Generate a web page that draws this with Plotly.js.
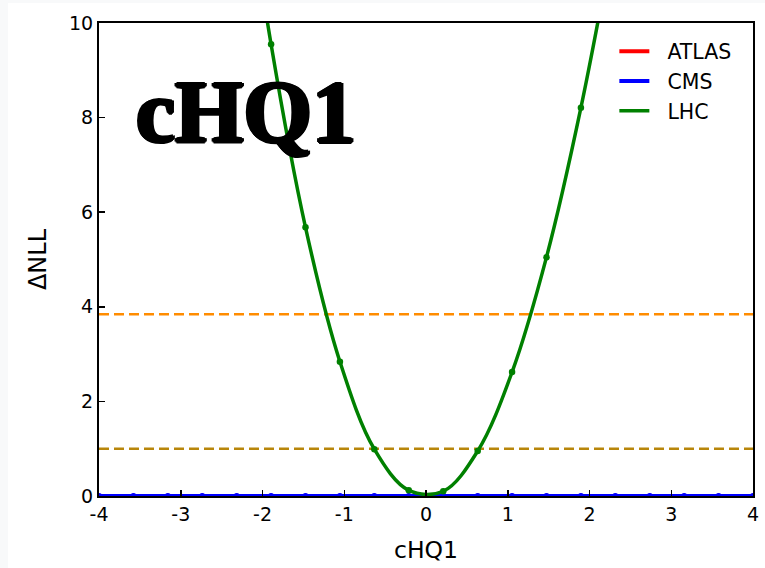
<!DOCTYPE html>
<html>
<head>
<meta charset="utf-8">
<script src="https://cdn.plot.ly/plotly-3.0.1.min.js"></script>
<style>
  html, body { margin: 0; padding: 0; background: #f8f9fa; }
  #frame { position: absolute; left: 8px; top: 3px; width: 757px; height: 565px; background: #ffffff; }
  #chart { width: 757px; height: 565px; }
</style>
</head>
<body>
<div id="frame"><div id="chart"></div></div>
<script>
// Scan points of the Wilson coefficient cHQ1
const scanX = [-4, -3.579, -3.158, -2.737, -2.316, -1.895, -1.474, -1.053, -0.632, -0.211,
               0.211, 0.632, 1.053, 1.474, 1.895, 2.316, 2.737, 3.158, 3.579, 4];
// ATLAS and CMS scans are flat at zero
const atlasNLL = [0, 0, 0, 0, 0, 0, 0, 0, 0, 0, 0, 0, 0, 0, 0, 0, 0, 0, 0, 0];
const cmsNLL   = [0, 0, 0, 0, 0, 0, 0, 0, 0, 0, 0, 0, 0, 0, 0, 0, 0, 0, 0, 0];
// Combined LHC scan (points near the plotted window)
const lhcX   = [-2.316, -1.895, -1.474, -1.053, -0.632, -0.211, 0.211, 0.632, 1.053, 1.474, 1.895, 2.316];
const lhcNLL = [14.4, 9.55, 5.68, 2.84, 0.99, 0.12, 0.10, 0.95, 2.62, 5.05, 8.21, 12.0];
// 68% and 95% CL thresholds
const clLevels = [1.0, 3.84];
const clColors = ['#b8860b', '#ff8c00'];
const xTicks = [-4, -3, -2, -1, 0, 1, 2, 3, 4];
const xTickText = ['-4', '-3', '-2', '-1', '0', '1', '2', '3', '4'];
const yTicks = [0, 2, 4, 6, 8, 10];
const yTickText = ['0', '2', '4', '6', '8', '10'];
const seriesNames = ['ATLAS', 'CMS', 'LHC'];

const FONT = 'DejaVu Sans, sans-serif';
const GAP = '\u00a0\u00a0';   // spacing between legend line and label

const traces = [];
// threshold lines across the full x range
clLevels.forEach((lvl, i) => {
  traces.push({
    x: [xTicks[0], xTicks[xTicks.length - 1]], y: [lvl, lvl],
    mode: 'lines', showlegend: false, hoverinfo: 'skip',
    line: { color: clColors[i], width: 2.5, dash: '10px,5px' }
  });
});
// ATLAS
traces.push({ x: scanX, y: atlasNLL, name: GAP + seriesNames[0], legendgroup: 'a', mode: 'lines',
  line: { color: '#ff0000', width: 4 } });
traces.push({ x: scanX, y: atlasNLL, mode: 'markers', showlegend: false, legendgroup: 'a',
  marker: { color: '#ff0000', size: 5 } });
// CMS
traces.push({ x: scanX, y: cmsNLL, name: GAP + seriesNames[1], legendgroup: 'b', mode: 'lines',
  line: { color: '#0000ff', width: 4 } });
traces.push({ x: scanX, y: cmsNLL, mode: 'markers', showlegend: false, legendgroup: 'b',
  marker: { color: '#0000ff', size: 6 } });
// LHC combination
traces.push({ x: lhcX, y: lhcNLL, name: GAP + seriesNames[2], legendgroup: 'c', mode: 'lines',
  line: { color: '#008000', width: 3.5, shape: 'spline' } });
traces.push({ x: lhcX, y: lhcNLL, mode: 'markers', showlegend: false, legendgroup: 'c',
  marker: { color: '#008000', size: 6.5 } });

const layout = {
  width: 757, height: 565,
  margin: { l: 90.5, r: 12, t: 20, b: 72 },
  paper_bgcolor: '#ffffff', plot_bgcolor: '#ffffff',
  font: { family: FONT, color: '#000000', size: 19 },
  showlegend: true,
  legend: {
    x: 0.788, y: 0.982, xanchor: 'left', yanchor: 'top',
    bgcolor: 'rgba(255,255,255,0)', borderwidth: 0,
    font: { family: FONT, size: 20.5, color: '#000000' },
    traceorder: 'grouped', tracegroupgap: 0
  },
  xaxis: {
    range: [-4, 4], tickmode: 'array', tickvals: xTicks, ticktext: xTickText,
    ticks: 'inside', ticklen: 6, tickwidth: 1.5, tickcolor: '#000000',
    showline: true, linecolor: '#000000', linewidth: 2, mirror: true,
    showgrid: false, zeroline: false,
    tickfont: { family: FONT, size: 19 },
    title: { text: 'cHQ1', font: { family: FONT, size: 23.5 }, standoff: 18 }
  },
  yaxis: {
    range: [0, 10], tickmode: 'array', tickvals: yTicks, ticktext: yTickText,
    ticks: 'inside', ticklen: 6, tickwidth: 1.5, tickcolor: '#000000',
    showline: true, linecolor: '#000000', linewidth: 2, mirror: true,
    showgrid: false, zeroline: false,
    tickfont: { family: FONT, size: 19 },
    title: { text: 'ΔNLL', font: { family: FONT, size: 24 }, standoff: 16 }
  },
  annotations: [{
    text: 'cHQ1', xref: 'x', yref: 'y', x: -2.2, y: 8.12,
    xanchor: 'center', yanchor: 'middle', showarrow: false,
    font: { family: 'Liberation Serif, serif', size: 88, weight: 'bold', color: '#000000',
            shadow: '2px 0 0 #000, -2px 0 0 #000, 0 1.5px 0 #000, 0 -1px 0 #000, 1px 1px 0 #000, -1px 1px 0 #000' }
  }]
};

Plotly.newPlot('chart', traces, layout, { displayModeBar: false, staticPlot: true });
</script>
</body>
</html>
